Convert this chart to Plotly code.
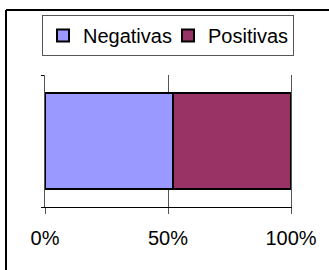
import plotly.graph_objects as go

categories = ["Respuestas"]
series_names = ["Negativas", "Positivas"]
negativas = [52]
positivas = [48]
tick_vals = [0, 50, 100]
tick_text = ["0%", "50%", "100%"]

colors = ["#9999FF", "#993366"]
W, H = 329, 270
L, R, T, B = 45, 38, 75, 63
pw, ph = W - L - R, H - T - B

fig = go.Figure()
for name, vals, c in zip(series_names, [negativas, positivas], colors):
    fig.add_trace(go.Bar(
        y=categories, x=vals, name=name, orientation="h",
        marker=dict(color=c, line=dict(color="black", width=2)),
        width=0.72,
    ))

def px_x(p):
    return (p - L) / pw

def px_y(p):
    return (H - B - p) / ph

fig.update_layout(
    width=W, height=H,
    margin=dict(l=L, r=R, t=T, b=B, pad=0),
    barmode="stack",
    paper_bgcolor="white", plot_bgcolor="white",
    font=dict(family="Arial, Liberation Sans, sans-serif", size=20, color="black"),
    showlegend=True,
    legend=dict(
        orientation="h", x=px_x(42), y=px_y(15), xanchor="left", yanchor="top",
        bordercolor="#555555", borderwidth=1, bgcolor="white",
        font=dict(size=20), traceorder="normal",
        entrywidth=80, entrywidthmode="pixels",
        tracegroupgap=0,
    ),
    xaxis=dict(
        range=[0, 100], tickvals=tick_vals, ticktext=tick_text,
        showgrid=True, gridcolor="#555555", gridwidth=1,
        showline=True, linecolor="black", linewidth=1,
        ticks="outside", ticklen=6, tickcolor="#555555",
        ticklabelstandoff=7,
        zeroline=False, fixedrange=True,
    ),
    yaxis=dict(
        range=[-0.5, 0.5], tickvals=[-0.5, 0.5], ticktext=["", ""],
        showgrid=False, zeroline=False,
        showline=True, mirror=True, linecolor="#555555", linewidth=1,
        ticks="outside", ticklen=3, tickcolor="black",
        fixedrange=True,
    ),
    shapes=[
        dict(type="line", xref="paper", yref="paper",
             x0=px_x(6), x1=px_x(6), y0=px_y(10), y1=px_y(275),
             line=dict(color="black", width=2)),
        dict(type="line", xref="paper", yref="paper",
             x0=px_x(6), x1=px_x(335), y0=px_y(10), y1=px_y(10),
             line=dict(color="black", width=2)),
    ],
)

fig.write_html(
    "out.html",
    config={"displayModeBar": False},
    post_script="document.body.style.margin='0';document.body.style.overflow='hidden';",
)
